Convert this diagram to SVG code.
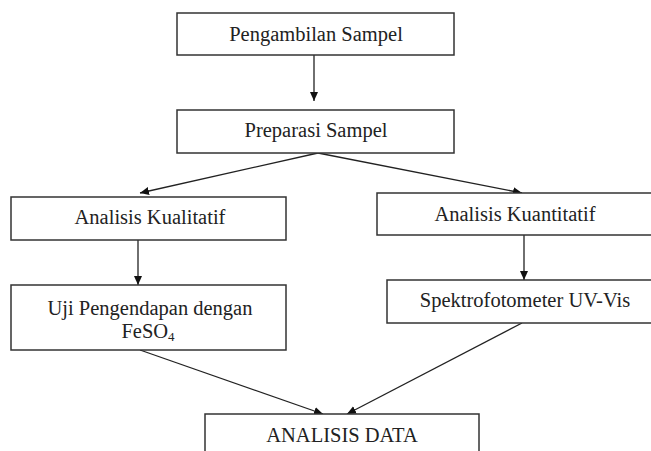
<svg xmlns="http://www.w3.org/2000/svg" width="651" height="451" viewBox="0 0 651 451">
<defs>
<marker id="arr" markerUnits="userSpaceOnUse" markerWidth="10" markerHeight="9" refX="9" refY="4" orient="auto">
<path d="M0,0 L9,4 L0,8 z" fill="#111"/>
</marker>
<style>
.box{fill:#fff;stroke:#333;stroke-width:1.5}
.t{font-family:'Liberation Serif',serif;font-size:20.5px;fill:#222;text-anchor:middle}
.c{fill:none;stroke:#222;stroke-width:1.3;marker-end:url(#arr)}
</style>
</defs>
<rect width="651" height="451" fill="#fff"/>
<g id="connectors">
<line class="c" x1="314" y1="55" x2="314" y2="101"/>
<line class="c" x1="318" y1="153" x2="140" y2="193"/>
<line class="c" x1="318" y1="153" x2="522" y2="193"/>
<line class="c" x1="138" y1="240" x2="138" y2="285"/>
<line class="c" x1="524" y1="235" x2="524" y2="280"/>
<line class="c" x1="140" y1="350" x2="323" y2="414"/>
<line class="c" x1="522" y1="323" x2="347" y2="414"/>
</g>
<g id="pengambilan">
<rect class="box" x="177" y="13" width="277" height="42"/>
<text class="t" font-family="Liberation Serif, serif" x="316" y="41">Pengambilan Sampel</text>
</g>
<g id="preparasi">
<rect class="box" x="177" y="110" width="277" height="43"/>
<text class="t" font-family="Liberation Serif, serif" x="316" y="137">Preparasi Sampel</text>
</g>
<g id="kualitatif">
<rect class="box" x="11" y="197" width="275" height="43"/>
<text class="t" font-family="Liberation Serif, serif" x="150" y="224">Analisis Kualitatif</text>
</g>
<g id="kuantitatif">
<rect class="box" x="377" y="193" width="290" height="42"/>
<text class="t" font-family="Liberation Serif, serif" x="515" y="221">Analisis Kuantitatif</text>
</g>
<g id="uji">
<rect class="box" x="11" y="285" width="275" height="65"/>
<text class="t" font-family="Liberation Serif, serif" x="150" y="315">Uji Pengendapan dengan</text>
<text class="t" font-family="Liberation Serif, serif" x="148" y="338">FeSO<tspan font-size="13" dy="3">4</tspan></text>
</g>
<g id="spektro">
<rect class="box" x="387" y="280" width="280" height="43"/>
<text class="t" font-family="Liberation Serif, serif" x="525" y="307">Spektrofotometer UV-Vis</text>
</g>
<g id="analisis-data">
<rect class="box" x="205" y="414" width="274" height="60"/>
<text class="t" font-family="Liberation Serif, serif" x="342" y="442">ANALISIS DATA</text>
</g>
</svg>
